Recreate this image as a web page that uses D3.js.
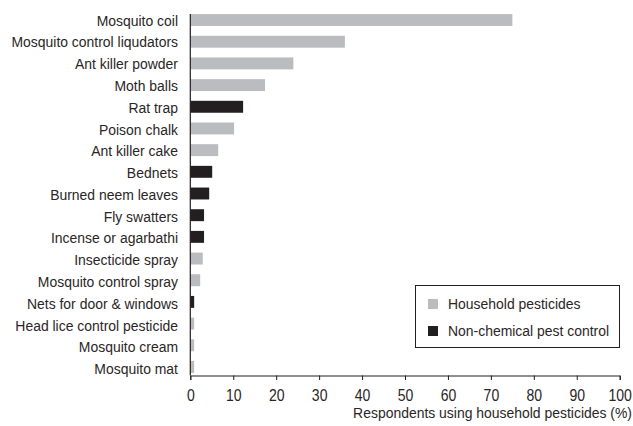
<!DOCTYPE html>
<html><head><meta charset="utf-8">
<script src="https://cdn.jsdelivr.net/npm/d3@7"></script>
<style>
body{margin:0;background:#fff;}
svg text{font-family:"Liberation Sans",Arial,sans-serif;fill:#2a2627;}
</style></head>
<body><svg id="chart" width="633" height="426"></svg>
<script>
const categories = ["Mosquito coil","Mosquito control liqudators","Ant killer powder","Moth balls","Rat trap","Poison chalk","Ant killer cake","Bednets","Burned neem leaves","Fly swatters","Incense or agarbathi","Insecticide spray","Mosquito control spray","Nets for door & windows","Head lice control pesticide","Mosquito cream","Mosquito mat"];
const values = [75,36,24,17.4,12.3,10.2,6.5,5.1,4.4,3.2,3.2,2.9,2.3,0.9,0.9,0.9,0.9];
const groups = ["Household pesticides","Household pesticides","Household pesticides","Household pesticides","Non-chemical pest control","Household pesticides","Household pesticides","Non-chemical pest control","Non-chemical pest control","Non-chemical pest control","Non-chemical pest control","Household pesticides","Household pesticides","Non-chemical pest control","Household pesticides","Household pesticides","Household pesticides"];
const legendLabels = ["Household pesticides","Non-chemical pest control"];
const xTicks = [0,10,20,30,40,50,60,70,80,90,100];
const xTitle = "Respondents using household pesticides (%)";

const SX = 0.93, FS = 15;
const svg = d3.select("#chart");
const color = d3.scaleOrdinal().domain(legendLabels).range(["#bbbcc0","#231f20"]);
const x = d3.scaleLinear().domain([0,100]).range([190.3,619.7]);
const y = d3.scaleBand().domain(categories).range([9.2,377.8]).paddingInner(0.45).paddingOuter(0.225);

function condensedText(sel, tx, ty, anchor, txt){
  return sel.append("text")
    .attr("transform", `translate(${tx},${ty}) scale(${SX},1)`)
    .attr("text-anchor", anchor).attr("font-size", FS).text(txt);
}

svg.append("g").selectAll("rect").data(categories).join("rect")
  .attr("x", x(0))
  .attr("y", d => y(d))
  .attr("width", (d,i) => x(values[i]) - x(0))
  .attr("height", y.bandwidth())
  .attr("fill", (d,i) => color(groups[i]));

// y axis line
svg.append("line").attr("x1",x(0)).attr("x2",x(0)).attr("y1",14).attr("y2",375.5)
  .attr("stroke","#231f20").attr("stroke-width",1.2);

// y labels
const gl = svg.append("g");
categories.forEach((c,i) => condensedText(gl, 178, y(c) + y.bandwidth()/2 + 5.6 + i*0.1, "end", c));

// x axis
const xAxis = svg.append("g").attr("transform","translate(0,375.5)")
  .call(d3.axisBottom(x).tickValues(xTicks).tickSize(4.5).tickPadding(9.5).tickFormat(d3.format("d")));
xAxis.select(".domain").attr("stroke","#231f20").attr("stroke-width",1);
xAxis.selectAll(".tick line").attr("stroke","#231f20");
xAxis.selectAll(".tick text").attr("font-size",16.5).attr("font-family",null).attr("fill","#2a2627")
  .attr("transform","scale(0.85,1)");

condensedText(svg, 632, 417.5, "end", xTitle);

// legend
const lg = svg.append("g");
lg.append("rect").attr("x",415.5).attr("y",285.5).attr("width",204).attr("height",62)
  .attr("fill","#fff").attr("stroke","#231f20").attr("stroke-width",1);
legendLabels.forEach((l,i) => {
  lg.append("rect").attr("x",428).attr("y",299 + i*27).attr("width",10).attr("height",10).attr("fill",color(l));
  condensedText(lg, 448, 309 + i*27, "start", l);
});
</script></body></html>
